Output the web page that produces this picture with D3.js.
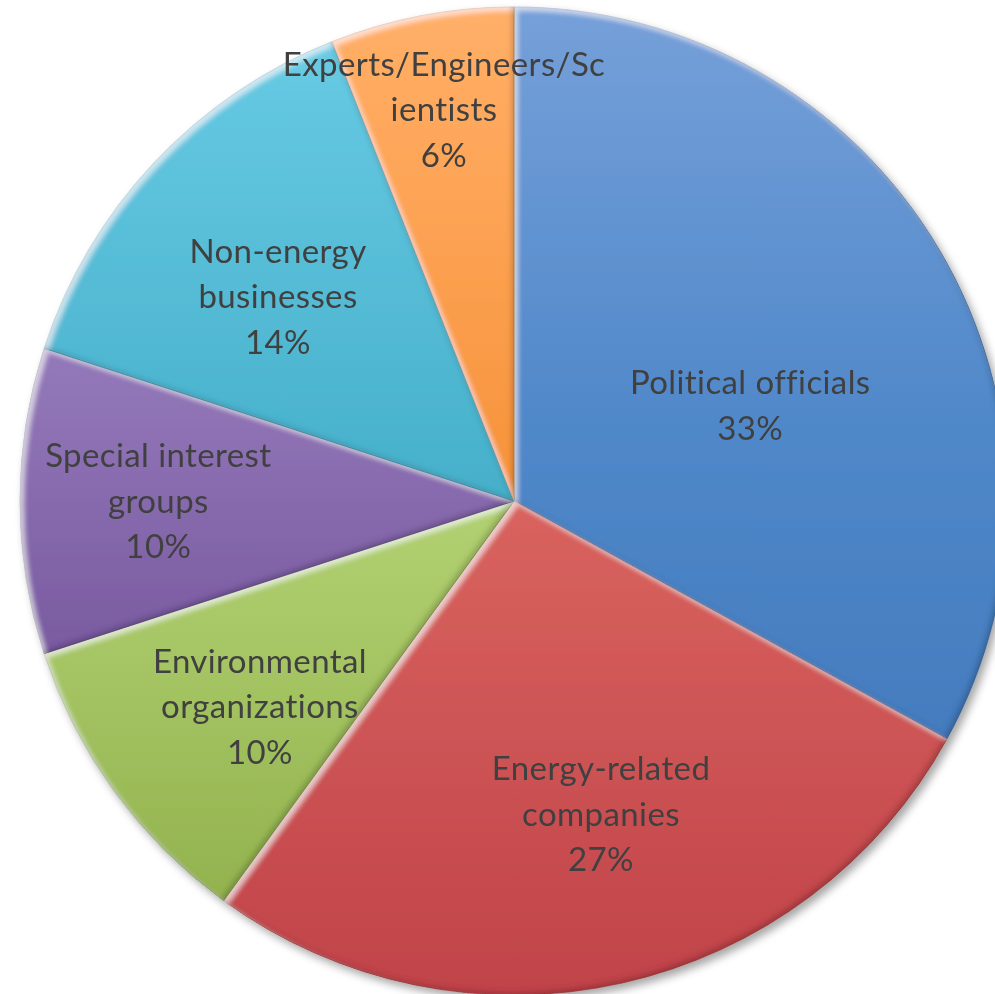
<!DOCTYPE html>
<html>
<head>
<meta charset="utf-8">
<script src="https://cdn.jsdelivr.net/npm/d3@7/dist/d3.min.js"></script>
<style>
  html, body { margin: 0; padding: 0; background: #ffffff; }
  svg { display: block; }
</style>
</head>
<body>
<svg id="chart" width="995" height="994"></svg>
<script>
// Who is shaping the energy debate: share of respondents by group
const categories = [
  "Political officials",
  "Energy-related companies",
  "Environmental organizations",
  "Special interest groups",
  "Non-energy businesses",
  "Experts/Engineers/Scientists"
];
const shares = [33, 27, 10, 10, 14, 6];
// Wrapped label text as shown on the slices
const labelLines = [
  ["Political officials"],
  ["Energy-related", "companies"],
  ["Environmental", "organizations"],
  ["Special interest", "groups"],
  ["Non-energy", "businesses"],
  ["Experts/Engineers/Sc", "ientists"]
];

// Slice fills: vertical ramp over the pie's height, [offset, colour] stops
const fillStops = [
  [[0, "#76a0d9"], [0.4, "#5189ca"], [1, "#3a72b6"]],
  [[0, "#ea8a84"], [0.52, "#d8625d"], [1, "#c0434a"]],
  [[0, "#cde596"], [0.5, "#b2d172"], [0.9, "#93b34f"]],
  [[0, "#ab93cc"], [0.35, "#9479ba"], [0.65, "#7a5ba1"]],
  [[0, "#6fcfe6"], [0.1, "#62c6e0"], [0.5, "#46afca"]],
  [[0, "#ffb06a"], [0.1, "#ffa95e"], [0.5, "#f6923a"]]
];
const edgeColor = ["#2f5f98", "#9c3330", "#6f8a3a", "#5a4378", "#2f8aa3", "#c26c24"];

// Label placement: angular nudge (degrees) and radius fraction per slice
const labelShift = [8.25, -3.0, -2.8, 0.2, -2.1, 0.7];
const labelRadius = [0.517, 0.655, 0.66, 0.72, 0.634, 0.808];

const width = 995, height = 994;
const cx = 514, cy = 501, R = 494;

const svg = d3.select("#chart");
const defs = svg.append("defs");

fillStops.forEach((stops, i) => {
  const g = defs.append("linearGradient")
    .attr("id", "grad" + i)
    .attr("gradientUnits", "userSpaceOnUse")
    .attr("x1", 0).attr("y1", -R)
    .attr("x2", 0).attr("y2", R);
  stops.forEach(([o, c]) => g.append("stop").attr("offset", o).attr("stop-color", c));
});

// Soft bevel on each slice: lit from the upper left
const bevel = defs.append("filter").attr("id", "bevel")
  .attr("x", "-5%").attr("y", "-5%").attr("width", "110%").attr("height", "110%");
bevel.append("feGaussianBlur").attr("in", "SourceAlpha").attr("stdDeviation", 2.8).attr("result", "b");
bevel.append("feOffset").attr("in", "b").attr("dx", 3.5).attr("dy", 3.5).attr("result", "o1");
bevel.append("feComposite").attr("in", "SourceAlpha").attr("in2", "o1")
  .attr("operator", "arithmetic").attr("k2", 1).attr("k3", -1).attr("result", "hiA");
bevel.append("feFlood").attr("flood-color", "#ffffff").attr("flood-opacity", 0.55).attr("result", "white");
bevel.append("feComposite").attr("in", "white").attr("in2", "hiA").attr("operator", "in").attr("result", "hi");
bevel.append("feOffset").attr("in", "b").attr("dx", -3).attr("dy", -3).attr("result", "o2");
bevel.append("feComposite").attr("in", "SourceAlpha").attr("in2", "o2")
  .attr("operator", "arithmetic").attr("k2", 1).attr("k3", -1).attr("result", "shA");
bevel.append("feFlood").attr("flood-color", "#000000").attr("flood-opacity", 0.35).attr("result", "black");
bevel.append("feComposite").attr("in", "black").attr("in2", "shA").attr("operator", "in").attr("result", "sh");
const bm = bevel.append("feMerge");
bm.append("feMergeNode").attr("in", "SourceGraphic");
bm.append("feMergeNode").attr("in", "hi");
bm.append("feMergeNode").attr("in", "sh");

// Drop shadow under the whole pie
const shadow = defs.append("filter").attr("id", "shadow")
  .attr("x", "-10%").attr("y", "-10%").attr("width", "120%").attr("height", "120%");
shadow.append("feDropShadow").attr("dx", 4).attr("dy", 5).attr("stdDeviation", 4)
  .attr("flood-color", "#000").attr("flood-opacity", 0.35);

const pie = d3.pie().sort(null).value(d => d);
const arcs = pie(shares);
const arc = d3.arc().innerRadius(0).outerRadius(R);

const pieG = svg.append("g")
  .attr("transform", `translate(${cx},${cy})`)
  .attr("filter", "url(#shadow)");

pieG.selectAll("path.slice")
  .data(arcs)
  .join("path")
  .attr("class", "slice")
  .attr("d", arc)
  .attr("fill", (d, i) => `url(#grad${i})`)
  .attr("stroke", (d, i) => edgeColor[i])
  .attr("stroke-width", 0.8)
  .attr("stroke-opacity", 0.7)
  .attr("filter", "url(#bevel)");

// Labels: name lines plus percentage
const lineH = 45.5;
const labelG = svg.append("g").attr("transform", `translate(${cx},${cy})`);
arcs.forEach((d, i) => {
  const mid = (d.startAngle + d.endAngle) / 2 + labelShift[i] * Math.PI / 180;
  const r = R * labelRadius[i];
  const x = r * Math.sin(mid);
  const y = -r * Math.cos(mid);
  const lines = labelLines[i].concat([d3.format("d")(d.data) + "%"]);
  const n = lines.length;
  const t = labelG.append("text")
    .attr("x", x).attr("y", y)
    .attr("text-anchor", "middle")
    .attr("font-family", "Lato, 'Open Sans', sans-serif")
    .attr("font-size", 33)
    .attr("letter-spacing", 0.4)
    .attr("fill", "#404040");
  lines.forEach((s, k) => {
    t.append("tspan")
      .attr("x", x)
      .attr("y", y + (k - (n - 1) / 2) * lineH)
      .attr("dominant-baseline", "central")
      .text(s);
  });
});
</script>
</body>
</html>
